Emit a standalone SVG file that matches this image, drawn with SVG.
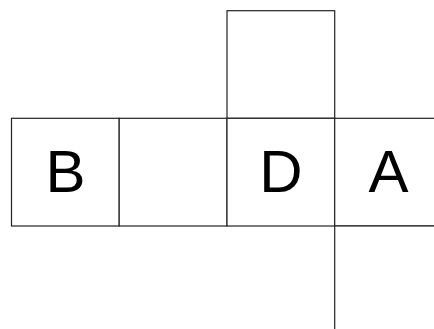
<svg xmlns="http://www.w3.org/2000/svg" width="434" height="329" viewBox="0 0 434 329">
<style>
.face{fill:#fff;stroke:#222;stroke-width:1.2}
.lbl{font-family:"Liberation Sans",Arial,sans-serif;font-size:60px;fill:#000;text-anchor:middle}
</style>
<rect width="434" height="329" fill="#fff"/>
<g id="top"><rect class="face" x="227" y="10.7" width="107.7" height="107.6"/></g>
<g id="B"><rect class="face" x="11.5" y="118.3" width="107.7" height="107.7"/><text class="lbl" x="65.4" y="192">B</text></g>
<g id="C"><rect class="face" x="119.2" y="118.3" width="107.8" height="107.7"/></g>
<g id="D"><rect class="face" x="227" y="118.3" width="107.7" height="107.7"/><text class="lbl" x="281" y="192">D</text></g>
<g id="A"><rect class="face" x="334.7" y="118.3" width="107.7" height="107.7"/><text class="lbl" x="388.5" y="192">A</text></g>
<g id="bottom"><rect class="face" x="334.7" y="226" width="107.7" height="107.7"/></g>
</svg>
